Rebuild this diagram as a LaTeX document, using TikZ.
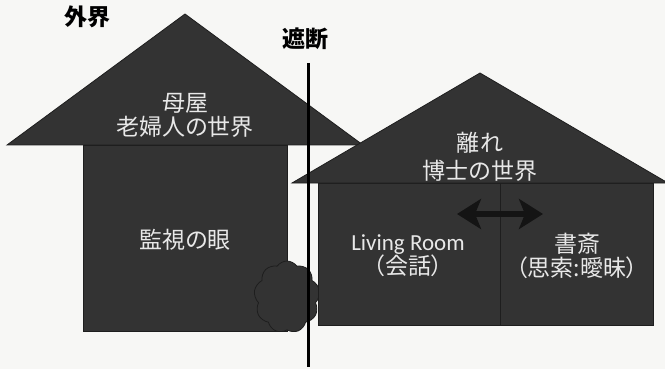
\documentclass[tikz,border=0pt]{standalone}
\usepackage{fontspec}
\setmainfont{Noto Sans CJK JP}[RawFeature=+palt]
\newfontfamily\latinfont{Carlito}
\usetikzlibrary{arrows.meta,shapes.symbols}

\definecolor{housegray}{HTML}{333333}
\definecolor{houseline}{HTML}{1E1E1E}
\definecolor{labelwhite}{HTML}{E8E8E8}
\definecolor{paper}{HTML}{F7F7F5}

\tikzset{
  house/.style={fill=housegray, draw=houseline, line width=0.8pt},
  inlabel/.style={text=labelwhite, align=center,
    font=\fontsize{23}{24}\selectfont},
  outlabel/.style={font=\fontsize{23}{24}\selectfont\bfseries},
  tipbig/.tip={Stealth[length=24pt, width=30pt, inset=6pt]},
}

\begin{document}
\begin{tikzpicture}[x=1pt, y=-1pt]
  \fill[paper] (0,0) rectangle (665,369);
  \useasboundingbox (0,0) rectangle (665,369);

  % main house (left)
  \draw[house] (83,145) rectangle (287,331);
  \draw[house] (7,145) -- (185,14) -- (363,145) -- cycle;

  % hedge at the corner
  \node[house, cloud, cloud puffs=9, cloud puff arc=110, aspect=0.9,
    minimum width=66pt, minimum height=72pt, inner sep=0pt] (hedge) at (287,297) {};

  % annex (right)
  \draw[house] (318,183) rectangle (653,325);
  \draw[house] (292,183) -- (480,73) -- (668,183) -- cycle;
  \coordinate (wallT) at (500,183);
  \coordinate (wallB) at (500,325);
  \draw[houseline, line width=0.8pt] (wallT) -- (wallB);

  % the cut between the two worlds
  \coordinate (cutT) at (308,63);
  \coordinate (cutB) at (308,367);
  \draw[black, line width=3pt] (cutT) -- (cutB);

  % texts
  \node[outlabel] (outside) at (87,17) {外界};
  \node[outlabel] (cut) at (305,39) {遮断};
  \node[inlabel] (mainroof) at (185,115) {母屋\\老婦人の世界};
  \node[inlabel] (watch) at (185,240) {監視の眼};
  \node[inlabel, font=\fontsize{23}{28}\selectfont] (annexroof) at (480,157) {離れ\\博士の世界};
  \node[inlabel] (living) at (408,256) {{\latinfont Living Room}\\（会話）};
  \node[inlabel] (study) at (577,256) {書斎\\（思索:曖昧）};

  % going back and forth between the rooms
  \coordinate (goL) at (457,214);
  \coordinate (goR) at (543,214);
  \draw[black!92, line width=6pt, tipbig-tipbig] (goL) -- (goR);
\end{tikzpicture}
\end{document}
